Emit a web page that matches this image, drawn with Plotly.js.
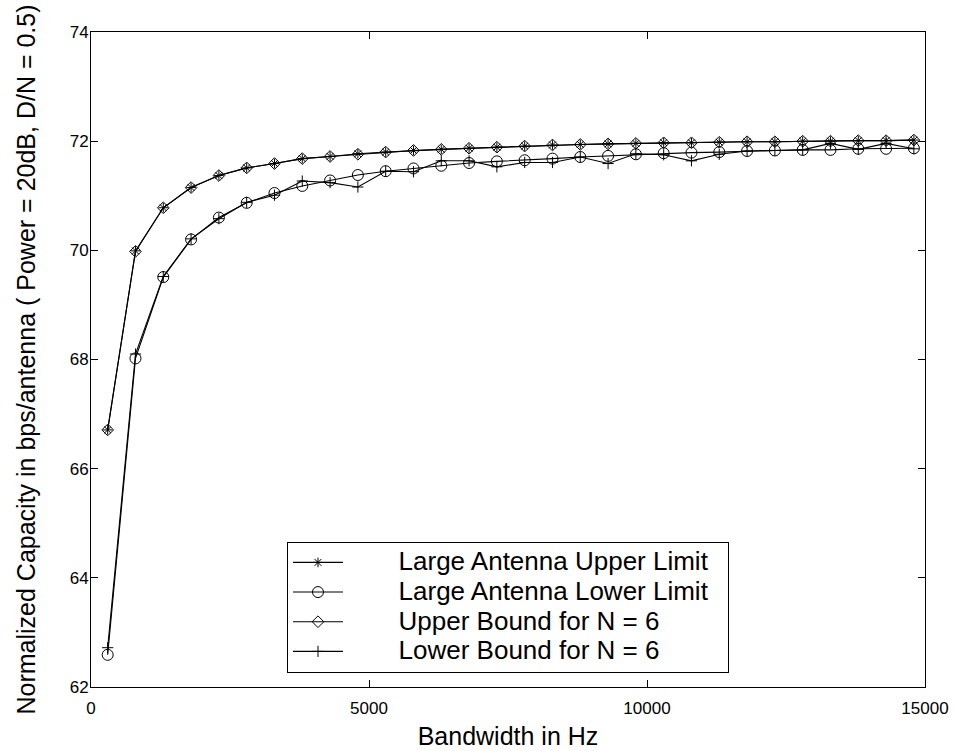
<!DOCTYPE html>
<html>
<head>
<meta charset="utf-8">
<script src="https://cdn.plot.ly/plotly-3.0.1.min.js"></script>
<style>html,body{margin:0;padding:0;background:#fff;}#chart{width:955px;height:751px;}</style>
</head>
<body>
<div id="chart"></div>
<script>
const bandwidth = [300, 800, 1300, 1800, 2300, 2800, 3300, 3800, 4300, 4800,
  5300, 5800, 6300, 6800, 7300, 7800, 8300, 8800, 9300, 9800,
  10300, 10800, 11300, 11800, 12300, 12800, 13300, 13800, 14300, 14800];

const largeUpper = [66.71, 69.99, 70.78, 71.15, 71.37, 71.51, 71.59, 71.68, 71.72, 71.77,
  71.80, 71.83, 71.85, 71.87, 71.89, 71.91, 71.93, 71.94, 71.95, 71.96,
  71.97, 71.97, 71.98, 71.99, 71.99, 72.00, 72.00, 72.01, 72.01, 72.02];

const largeLower = [62.59, 68.02, 69.51, 70.20, 70.60, 70.87, 71.05, 71.18, 71.28, 71.38,
  71.45, 71.50, 71.55, 71.60, 71.63, 71.65, 71.68, 71.71, 71.73, 71.76,
  71.78, 71.79, 71.80, 71.82, 71.83, 71.84, 71.84, 71.86, 71.86, 71.87];

const upperN6 = [66.71, 69.98, 70.78, 71.15, 71.37, 71.51, 71.59, 71.68, 71.72, 71.76,
  71.80, 71.83, 71.85, 71.87, 71.89, 71.91, 71.93, 71.94, 71.95, 71.96,
  71.97, 71.97, 71.98, 71.99, 71.99, 72.00, 72.00, 72.01, 72.01, 72.02];

const lowerN6 = [62.72, 68.10, 69.52, 70.21, 70.58, 70.88, 71.01, 71.27, 71.24, 71.16,
  71.45, 71.44, 71.64, 71.64, 71.53, 71.61, 71.61, 71.71, 71.59, 71.77,
  71.75, 71.64, 71.76, 71.82, 71.83, 71.84, 71.96, 71.85, 71.96, 71.86];

const seriesNames = ['Large Antenna Upper Limit', 'Large Antenna Lower Limit',
  'Upper Bound for N = 6', 'Lower Bound for N = 6'];

const xTicks = [0, 5000, 10000, 15000];
const yTicks = [62, 64, 66, 68, 70, 72, 74];

const legendPad = '\u00A0\u00A0\u00A0\u00A0\u00A0\u00A0\u00A0';
const legendTail = '\u00A0\u00A0';

function mk(name, y, symbol, size) {
  return {
    type: 'scatter', mode: 'lines+markers',
    name: '<span style="font-size:26px">' + legendPad + name + legendTail + '</span>',
    x: bandwidth, y: y,
    line: {color: '#000', width: 1.1},
    marker: {symbol: symbol, size: size, color: '#000', line: {color: '#000', width: 1}}
  };
}

const data = [
  mk(seriesNames[0], largeUpper, 'asterisk-open', 8),
  mk(seriesNames[1], largeLower, 'circle-open', 11),
  mk(seriesNames[2], upperN6, 'diamond-open', 9),
  mk(seriesNames[3], lowerN6, 'cross-thin-open', 8)
];

const axisCommon = {
  showline: true, linecolor: '#000', linewidth: 1, mirror: 'ticks',
  ticks: 'inside', ticklen: 7, tickcolor: '#000', tickwidth: 1,
  showgrid: false, zeroline: false,
  tickfont: {family: 'Liberation Sans, Arial, sans-serif', size: 17, color: '#000'}
};

const layout = {
  width: 955, height: 751,
  margin: {l: 91, r: 30, t: 32, b: 64},
  paper_bgcolor: '#fff', plot_bgcolor: '#fff',
  font: {family: 'Liberation Sans, Arial, sans-serif', color: '#000'},
  showlegend: true,
  xaxis: Object.assign({}, axisCommon, {
    range: [0, 15000], tickvals: xTicks, ticktext: xTicks.map(String),
    ticklabelstandoff: 6,
    title: {text: 'Bandwidth in Hz', font: {size: 25, color: '#000'}, standoff: 10}
  }),
  yaxis: Object.assign({}, axisCommon, {
    range: [62, 74], tickvals: yTicks, ticktext: yTicks.map(String),
    ticklabelstandoff: -2,
    title: {text: 'Normalized Capacity in bps/antenna ( Power = 20dB, D/N = 0.5)', font: {size: 25, color: '#000'}, standoff: 26}
  }),
  legend: {
    x: 0.235, y: 0.122, xanchor: 'left', yanchor: 'middle',
    bgcolor: '#fff', bordercolor: '#000', borderwidth: 1,
    font: {size: 20.5, color: '#000'}, itemwidth: 50,
    tracegroupgap: 0
  }
};

Plotly.newPlot('chart', data, layout, {displayModeBar: false, staticPlot: true});
</script>
</body>
</html>
